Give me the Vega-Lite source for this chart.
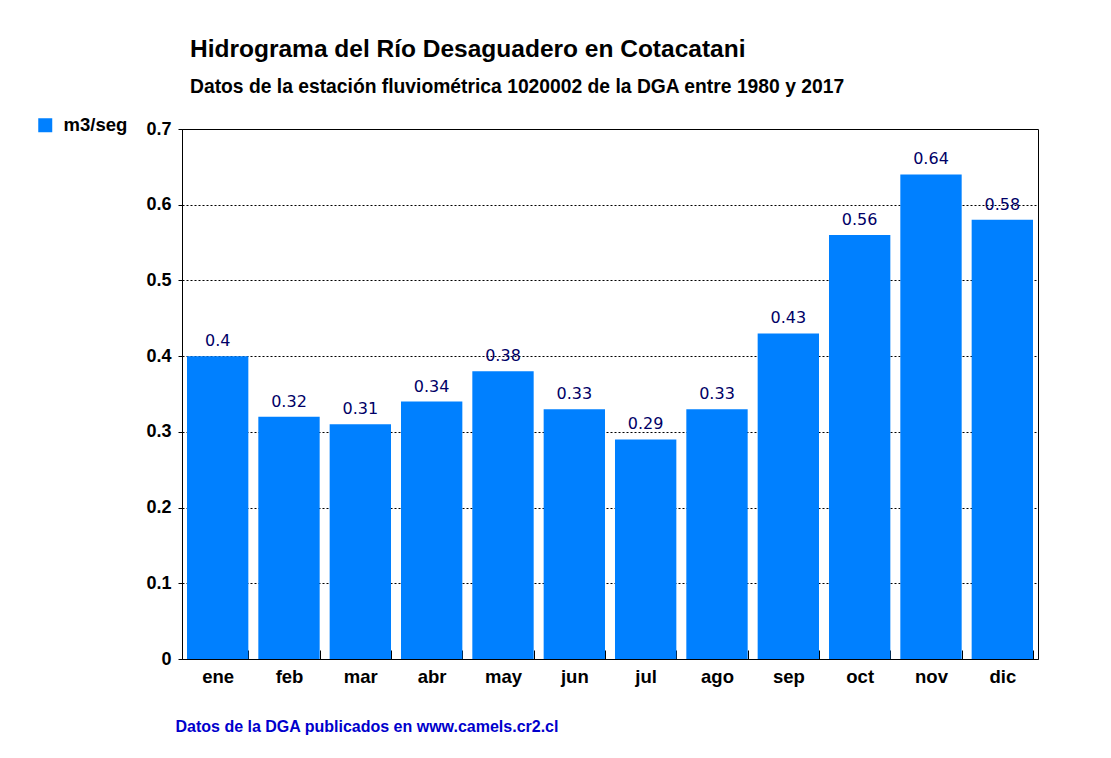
{
  "$schema": "https://vega.github.io/schema/vega-lite/v6.json",
  "width": 856,
  "height": 530,
  "autosize": "none",
  "padding": {"left": 182, "top": 129, "right": 73, "bottom": 99},
  "background": "white",
  "title": {
    "text": "Hidrograma del Río Desaguadero en Cotacatani",
    "subtitle": "Datos de la estación fluviométrica 1020002 de la DGA entre 1980 y 2017",
    "anchor": "start",
    "frame": "group",
    "dx": 8,
    "offset": 18,
    "font": "Liberation Sans",
    "fontSize": 24.5,
    "fontWeight": "bold",
    "color": "black",
    "subtitleFont": "Liberation Sans",
    "subtitleFontSize": 19.3,
    "subtitleFontWeight": "bold",
    "subtitleColor": "black",
    "subtitlePadding": 15
  },
  "data": {
    "values": [
      {"mes": "ene", "caudal": 0.4, "serie": "m3/seg"},
      {"mes": "feb", "caudal": 0.32, "serie": "m3/seg"},
      {"mes": "mar", "caudal": 0.31, "serie": "m3/seg"},
      {"mes": "abr", "caudal": 0.34, "serie": "m3/seg"},
      {"mes": "may", "caudal": 0.38, "serie": "m3/seg"},
      {"mes": "jun", "caudal": 0.33, "serie": "m3/seg"},
      {"mes": "jul", "caudal": 0.29, "serie": "m3/seg"},
      {"mes": "ago", "caudal": 0.33, "serie": "m3/seg"},
      {"mes": "sep", "caudal": 0.43, "serie": "m3/seg"},
      {"mes": "oct", "caudal": 0.56, "serie": "m3/seg"},
      {"mes": "nov", "caudal": 0.64, "serie": "m3/seg"},
      {"mes": "dic", "caudal": 0.58, "serie": "m3/seg"}
    ]
  },
  "encoding": {
    "x": {
      "field": "mes",
      "type": "nominal",
      "sort": null,
      "scale": {"paddingInner": 0.14, "paddingOuter": 0.07},
      "axis": {
        "title": "Datos de la DGA publicados en www.camels.cr2.cl",
        "titleFont": "Liberation Sans",
        "titleFontSize": 16,
        "titleFontWeight": "bold",
        "titleColor": "#0000CC",
        "titleAnchor": "start",
        "titleAlign": "left",
        "titleX": -7,
        "titleY": 59,
        "labelAngle": 0,
        "labelFont": "Liberation Sans",
        "labelFontSize": 18.5,
        "labelFontWeight": "bold",
        "labelColor": "black",
        "labelPadding": 17,
        "labelBaseline": "top",
        "tickBand": "extent",
        "tickSize": -9,
        "tickColor": "black",
        "domainColor": "black",
        "grid": false
      }
    },
    "y": {
      "field": "caudal",
      "type": "quantitative",
      "scale": {"domain": [0, 0.7]},
      "axis": {
        "title": null,
        "values": [0, 0.1, 0.2, 0.3, 0.4, 0.5, 0.6, 0.7],
        "format": "~g",
        "labelFont": "Liberation Sans",
        "labelFontSize": 18,
        "labelFontWeight": "bold",
        "labelColor": "black",
        "labelPadding": 7,
        "tickSize": 4,
        "tickColor": "black",
        "domainColor": "black",
        "grid": true,
        "gridColor": "black",
        "gridDash": [2, 2],
        "gridOpacity": 1
      }
    }
  },
  "layer": [
    {
      "mark": {"type": "bar"},
      "encoding": {
        "color": {
          "field": "serie",
          "type": "nominal",
          "scale": {"range": ["#0080FF"]},
          "legend": {
            "title": null,
            "orient": "none",
            "legendX": -146,
            "legendY": -13,
            "symbolType": "square",
            "symbolSize": 196,
            "symbolStrokeWidth": 0,
            "labelFont": "Liberation Sans",
            "labelFontSize": 18.5,
            "labelFontWeight": "bold",
            "labelColor": "black",
            "labelOffset": 9
          }
        }
      }
    },
    {
      "mark": {
        "type": "text",
        "baseline": "bottom",
        "dy": -7,
        "font": "DejaVu Sans",
        "fontSize": 16,
        "color": "#000066"
      },
      "encoding": {
        "text": {"field": "caudal", "type": "quantitative", "format": "~g"}
      }
    }
  ],
  "config": {
    "view": {"stroke": "black", "strokeWidth": 1}
  }
}
